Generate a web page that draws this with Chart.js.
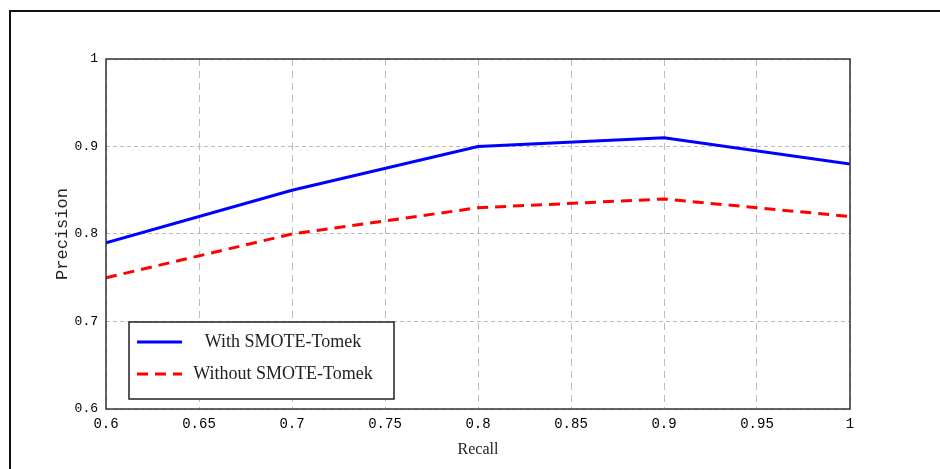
<!DOCTYPE html>
<html>
<head>
<meta charset="utf-8">
<script src="https://cdn.jsdelivr.net/npm/chart.js@4.4.0/dist/chart.umd.min.js"></script>
<style>
    html, body { margin: 0; padding: 0; background: #fff; overflow: hidden; }
    #wrap { position: relative; width: 940px; height: 469px; }
    #frame { position: absolute; left: 9px; top: 10px; width: 960px; height: 500px; border: 2px solid #111; box-sizing: border-box; }
    canvas { position: absolute; left: 0; top: 0; }
</style>
</head>
<body>
<div id="wrap">
    <div id="frame"></div>
    <canvas id="chart" width="940" height="469"></canvas>
</div>
<script>
// Datos
const recall = [0.6, 0.7, 0.8, 0.9, 1.0];
const withSmote = [0.79, 0.85, 0.90, 0.91, 0.88];
const withoutSmote = [0.75, 0.80, 0.83, 0.84, 0.82];
const seriesLabels = ['With SMOTE-Tomek', 'Without SMOTE-Tomek'];
const xTitle = 'Recall';
const yTitle = 'Precision';

const toPoints = (ys) => recall.map((x, i) => ({ x: x, y: ys[i] }));

// Marco, títulos y leyenda dentro del área
const extras = {
    id: 'extras',
    afterDraw(chart) {
        const { ctx, chartArea: a } = chart;
        ctx.save();
        // borde del área de trazado
        ctx.strokeStyle = '#333';
        ctx.lineWidth = 1.5;
        ctx.strokeRect(a.left, a.top, a.right - a.left, a.bottom - a.top);

        // títulos de ejes
        ctx.fillStyle = '#222';
        ctx.textAlign = 'center';
        ctx.textBaseline = 'middle';
        ctx.font = '16px "Liberation Serif", serif';
        ctx.fillText(xTitle, (a.left + a.right) / 2, 450);
        ctx.save();
        ctx.translate(62, (a.top + a.bottom) / 2);
        ctx.rotate(-Math.PI / 2);
        ctx.font = '17px "Liberation Mono", monospace';
        ctx.fillText(yTitle, 0, 0);
        ctx.restore();

        // leyenda
        const bx = 129, by = 322, bw = 265, bh = 77;
        ctx.fillStyle = '#fff';
        ctx.fillRect(bx, by, bw, bh);
        ctx.strokeStyle = '#222';
        ctx.lineWidth = 1.5;
        ctx.strokeRect(bx, by, bw, bh);
        chart.data.datasets.forEach((ds, i) => {
            const y = by + 20 + i * 32;
            ctx.beginPath();
            ctx.setLineDash(ds.borderDash || []);
            ctx.strokeStyle = ds.borderColor;
            ctx.lineWidth = 3;
            ctx.moveTo(137, y);
            ctx.lineTo(182, y);
            ctx.stroke();
            ctx.setLineDash([]);
            ctx.fillStyle = '#222';
            ctx.font = '18px "Liberation Serif", serif';
            ctx.textAlign = 'center';
            ctx.fillText(ds.label, 283, y);
        });
        ctx.restore();
    }
};

new Chart(document.getElementById('chart'), {
    type: 'line',
    data: {
        datasets: [{
            label: seriesLabels[0],
            data: toPoints(withSmote),
            borderColor: '#0000ff',
            borderWidth: 3,
            pointRadius: 0,
            tension: 0
        }, {
            label: seriesLabels[1],
            data: toPoints(withoutSmote),
            borderColor: '#ff0000',
            borderWidth: 3,
            borderDash: [11, 7],
            pointRadius: 0,
            tension: 0
        }]
    },
    options: {
        responsive: false,
        animation: false,
        layout: { padding: { left: 0, top: 59, right: 90, bottom: 0 } },
        plugins: {
            legend: { display: false },
            tooltip: { enabled: false }
        },
        scales: {
            x: {
                type: 'linear',
                min: 0.6,
                max: 1,
                ticks: {
                    stepSize: 0.05,
                    color: '#000',
                    padding: 7,
                    maxRotation: 0,
                    font: { family: '"Liberation Mono", monospace', size: 14 },
                    callback: (v) => String(Math.round(v * 100) / 100)
                },
                grid: { color: '#bbbbbb', lineWidth: 1, drawTicks: false },
                border: { display: false, dash: [7, 5] },
                afterFit: (s) => { s.height = 60; }
            },
            y: {
                min: 0.6,
                max: 1,
                ticks: {
                    stepSize: 0.1,
                    color: '#000',
                    padding: 8,
                    font: { family: '"Liberation Mono", monospace', size: 13 },
                    callback: (v) => String(Math.round(v * 10) / 10)
                },
                grid: { color: '#bbbbbb', lineWidth: 1, drawTicks: false },
                border: { display: false, dash: [4, 3] },
                afterFit: (s) => { s.width = 106; }
            }
        }
    },
    plugins: [extras]
});
</script>
</body>
</html>
